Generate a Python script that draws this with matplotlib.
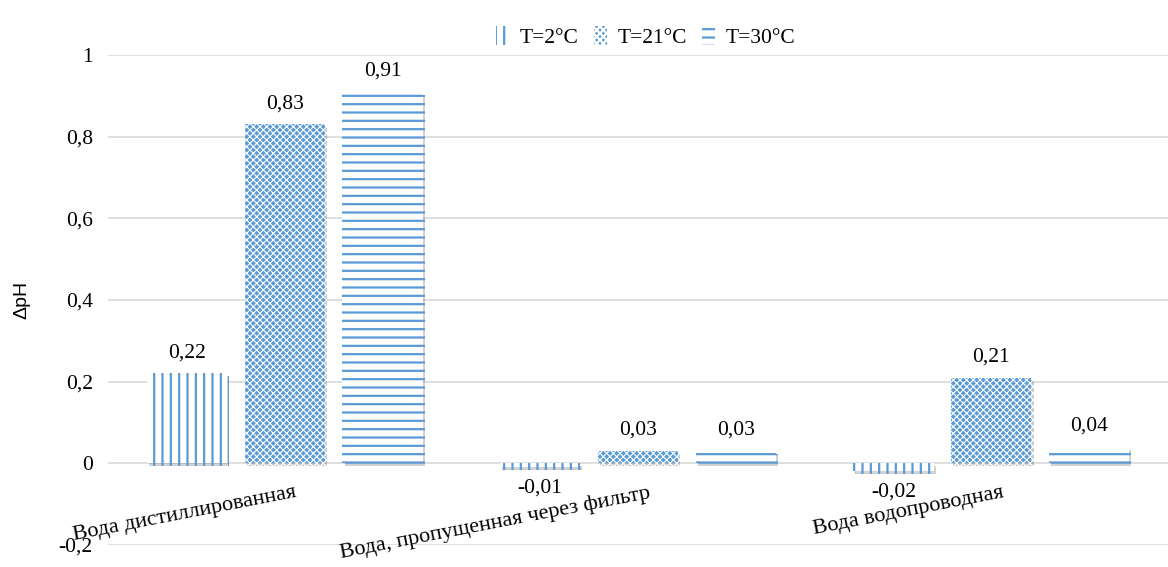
import numpy as np
import matplotlib
matplotlib.use('Agg')
import matplotlib.pyplot as plt
import matplotlib.patheffects as pe
from matplotlib.transforms import offset_copy
from matplotlib.ticker import FuncFormatter

categories = ['Вода дистиллированная', 'Вода, пропущенная через фильтр', 'Вода водопроводная']
series_names = ['T=2°C', 'T=21°C', 'T=30°C']
t2 = [0.22, -0.01, -0.02]
t21 = [0.83, 0.03, 0.21]
t30 = [0.91, 0.03, 0.04]
y_ticks = [-0.2, 0, 0.2, 0.4, 0.6, 0.8, 1]

blue = '#5B9BD5'
fs = 15.5
plt.rcParams['font.family'] = ['Liberation Serif', 'DejaVu Serif']
plt.rcParams['hatch.linewidth'] = 1.6

fig = plt.figure(figsize=(11.68, 5.67), dpi=100)
ax = fig.add_axes([0.0925, 0.039, 0.9075, 0.864])

x = np.arange(len(categories))
w = 0.227
step = 0.277
shadow = [pe.SimplePatchShadow(offset=(1.5, -2), alpha=0.25), pe.Normal()]

b1 = ax.bar(x - step, t2, w, facecolor='white', edgecolor=blue, hatch='||',
            linewidth=0, label=series_names[0], zorder=3)
b2 = ax.bar(x, t21, w, facecolor=blue, edgecolor='white', hatch='xxxxx',
            linewidth=0, label=series_names[1], zorder=3)
b3 = ax.bar(x + step, t30, w, facecolor='white', edgecolor=blue, hatch='--',
            linewidth=0, label=series_names[2], zorder=3)
for bars in (b1, b2, b3):
    for p in bars:
        p.set_path_effects(shadow)
for p in b2:
    if hasattr(p, 'set_hatch_linewidth'):
        p.set_hatch_linewidth(0.8)

def fmt(v):
    return ('%.2f' % v).replace('.', ',')

for bars, vals in ((b1, t2), (b2, t21), (b3, t30)):
    ax.bar_label(bars, labels=[fmt(v) for v in vals], padding=8, fontsize=fs)

ax.set_ylim(-0.2, 1.0)
ax.set_xlim(-0.5, 2.5)
ax.set_yticks(y_ticks)
ax.yaxis.set_major_formatter(FuncFormatter(lambda v, p: ('%g' % round(v, 2)).replace('.', ',')))
ax.tick_params(axis='y', length=0, labelsize=fs, pad=11)
ax.set_xticks([])
ax.grid(axis='y', color='#D9D9D9', linewidth=1.2, zorder=0)
for s in ax.spines.values():
    s.set_visible(False)

ax.set_ylabel('ΔpH', fontsize=14, family=['Liberation Sans', 'DejaVu Sans'], labelpad=20)

for i, name in enumerate(categories):
    tr = offset_copy(ax.transData, fig=fig, x=10, y=-20, units='dots')
    ax.text(i, 0, name, transform=tr, ha='right', va='top', rotation=11,
            rotation_mode='anchor', fontsize=fs + 0.5)

leg = fig.legend(loc='center', bbox_to_anchor=(0.553, 0.935), ncol=3, frameon=False,
                 fontsize=fs, handlelength=0.6, handleheight=1.0, handletextpad=0.5,
                 columnspacing=0.7)
for h in leg.legend_handles:
    h.set_path_effects([])

fig.savefig('out.png', dpi=100)
